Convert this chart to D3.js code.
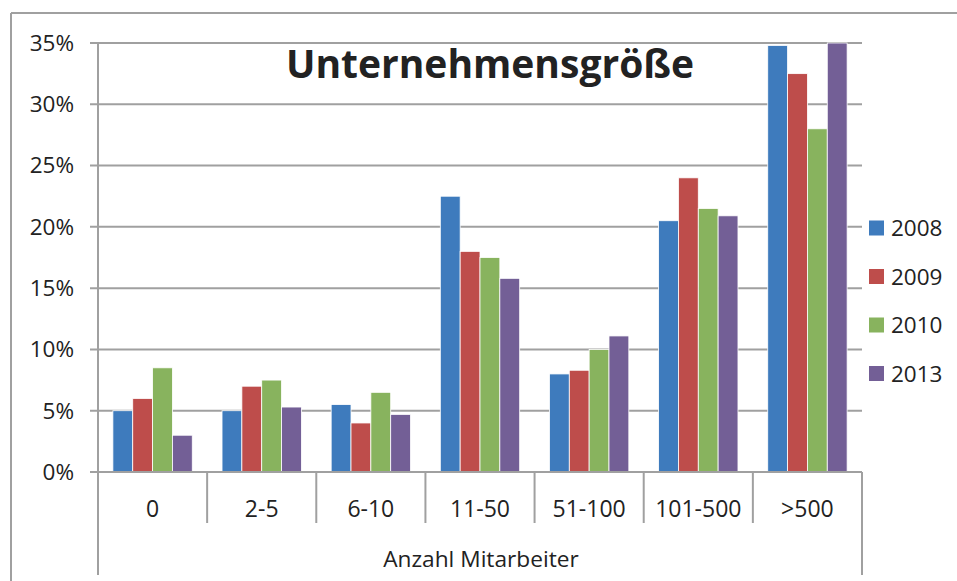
<!DOCTYPE html>
<html>
<head>
<meta charset="utf-8">
<script src="https://cdn.jsdelivr.net/npm/d3@7"></script>
<style>
  body { margin: 0; background: #fff; }
  text { font-family: "Open Sans", sans-serif; fill: #222; }
</style>
</head>
<body>
<svg id="chart" width="957" height="581"></svg>
<script>
// chart data
const categories = ["0", "2-5", "6-10", "11-50", "51-100", "101-500", ">500"];
const years = ["2008", "2009", "2010", "2013"];
const v2008 = [5, 5, 5.5, 22.5, 8, 20.5, 34.8];
const v2009 = [6, 7, 4, 18, 8.3, 24, 32.5];
const v2010 = [8.5, 7.5, 6.5, 17.5, 10, 21.5, 28];
const v2013 = [3, 5.3, 4.7, 15.8, 11.1, 20.9, 35];
const yTicks = [0, 5, 10, 15, 20, 25, 30, 35];
const colors = ["#3e7bbd", "#be4d4b", "#88b35e", "#735f96"];

const series = [v2008, v2009, v2010, v2013];

const svg = d3.select("#chart");
const plotL = 98, plotR = 862, plotT = 43, plotB = 472;
const gridColor = "#a0a0a0";

// outer frame (partial, like the cropped screenshot)
svg.append("line").attr("x1", 11).attr("x2", 957).attr("y1", 13).attr("y2", 13)
  .attr("stroke", gridColor).attr("stroke-width", 2);
svg.append("line").attr("x1", 11).attr("x2", 11).attr("y1", 13).attr("y2", 581)
  .attr("stroke", gridColor).attr("stroke-width", 2);

const x = d3.scaleBand().domain(categories).range([plotL, plotR]);
// Excel gap width 150% -> half gap each side
const barW = x.bandwidth() / (4 + 1.5);
const y = d3.scaleLinear().domain([0, 35]).range([plotB, plotT]);

// gridlines + y labels
svg.append("g").selectAll("line").data(yTicks).join("line")
  .attr("x1", plotL - 8).attr("x2", plotR)
  .attr("y1", d => y(d)).attr("y2", d => y(d))
  .attr("stroke", gridColor).attr("stroke-width", 2);

svg.append("g").selectAll("text").data(yTicks).join("text")
  .attr("x", 74).attr("y", d => y(d)).attr("dy", "0.35em")
  .attr("text-anchor", "end").attr("font-size", 22.5)
  .text(d => d + "%");

// bars
const groups = svg.append("g").selectAll("g").data(categories).join("g")
  .attr("transform", c => `translate(${x(c) + barW * 0.75},0)`);
groups.selectAll("rect")
  .data((c, ci) => series.map((s, si) => ({ v: s[ci], si })))
  .join("rect")
  .attr("x", d => d.si * barW)
  .attr("width", barW)
  .attr("y", d => y(Math.min(d.v, 35)))
  .attr("height", d => plotB - y(Math.min(d.v, 35)))
  .attr("fill", d => colors[d.si])
  .attr("stroke", "#fff").attr("stroke-width", 0.8);

// axes
svg.append("line").attr("x1", plotL).attr("x2", plotL).attr("y1", plotT).attr("y2", 575)
  .attr("stroke", gridColor).attr("stroke-width", 2);
svg.append("line").attr("x1", plotR).attr("x2", plotR).attr("y1", plotB).attr("y2", 575)
  .attr("stroke", gridColor).attr("stroke-width", 2);
svg.append("line").attr("x1", plotL - 8).attr("x2", plotR).attr("y1", plotB).attr("y2", plotB)
  .attr("stroke", gridColor).attr("stroke-width", 2);
svg.append("g").selectAll("line").data(categories.slice(1)).join("line")
  .attr("x1", c => x(c)).attr("x2", c => x(c))
  .attr("y1", plotB).attr("y2", 523)
  .attr("stroke", gridColor).attr("stroke-width", 2);

svg.append("g").selectAll("text").data(categories).join("text")
  .attr("x", c => x(c) + x.bandwidth() / 2).attr("y", 516.5)
  .attr("text-anchor", "middle").attr("font-size", 23)
  .text(c => c);

svg.append("text").attr("x", 481).attr("y", 567)
  .attr("text-anchor", "middle").attr("font-size", 22.7)
  .text("Anzahl Mitarbeiter");

// title
svg.append("text").attr("x", 490).attr("y", 77.5)
  .attr("text-anchor", "middle").attr("font-size", 39).attr("font-weight", "bold")
  .text("Unternehmensgröße");

// legend
const leg = svg.append("g").selectAll("g").data(years).join("g")
  .attr("transform", (d, i) => `translate(869,${228 + i * 48.5})`);
leg.append("rect").attr("x", 0).attr("y", -7.5).attr("width", 15).attr("height", 15)
  .attr("fill", (d, i) => colors[i]);
leg.append("text").attr("x", 22).attr("dy", "0.36em").attr("font-size", 22.5)
  .text(d => d);
</script>
</body>
</html>
